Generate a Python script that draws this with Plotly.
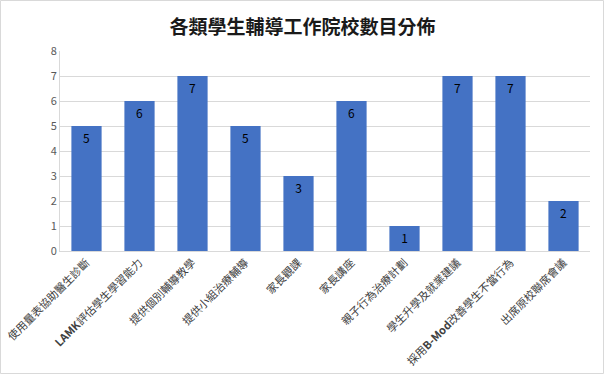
import plotly.graph_objects as go

categories = ["使用量表協助醫生診斷", "<b>LAMK</b>評估學生學習能力", "提供個別輔導教學", "提供小組治療輔導",
              "家長觀課", "家長講座", "親子行為治療計劃", "學生升學及就業建議",
              "採用<b>B-Mod</b>改善學生不當行為", "出席原校聯席會議"]
values = [5, 6, 7, 5, 3, 6, 1, 7, 7, 2]
y_ticks = [0, 1, 2, 3, 4, 5, 6, 7, 8]

font_family = "Noto Sans CJK TC, Noto Sans, sans-serif"

L, R, T, B = 60, 15, 51, 124
PW, PH = 605 - L - R, 375 - T - B

fig = go.Figure(go.Bar(
    x=categories, y=values,
    marker=dict(color="#4472C4", line=dict(width=0)),
    text=[str(v) for v in values],
    textposition="inside", insidetextanchor="end",
    textfont=dict(color="#000000", size=12, family=font_family),
    textangle=0,
    width=0.57,
))

fig.update_layout(
    width=605, height=375,
    margin=dict(l=L, r=R, t=T, b=B),
    paper_bgcolor="white", plot_bgcolor="white",
    title=dict(text="<b>各類學生輔導工作院校數目分佈</b>", x=0.5, xanchor="center", y=0.928, yanchor="middle",
               font=dict(size=19, color="#1a1a1a", family=font_family)),
    font=dict(family=font_family, color="#404040"),
    showlegend=False,
    shapes=[dict(type="rect", xref="paper", yref="paper",
                 x0=-(L - 0.5) / PW, x1=1 + (R - 1.5) / PW,
                 y0=-(B - 1.5) / PH, y1=1 + (T - 0.5) / PH,
                 line=dict(color="#D9D9D9", width=1), layer="below")],
)
fig.update_xaxes(tickangle=-45, tickfont=dict(size=11, color="#404040"), showgrid=False,
                 showline=True, linecolor="#D9D9D9", ticks="", automargin=False)
fig.update_yaxes(range=[0, 8], tickvals=y_ticks, showgrid=True, gridcolor="#D9D9D9",
                 showline=True, linecolor="#D9D9D9", zeroline=False, automargin=False,
                 tickfont=dict(size=11, color="#595959"), ticks="")

fig.write_html("out.html", config={"displayModeBar": False},
               post_script="document.body.style.margin='0';document.body.style.overflow='hidden';")
